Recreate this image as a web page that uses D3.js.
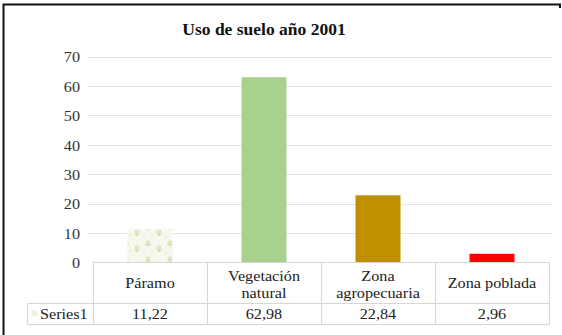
<!DOCTYPE html>
<html>
<head>
<meta charset="utf-8">
<script src="https://cdn.jsdelivr.net/npm/d3@7"></script>
<style>
  html, body { margin: 0; padding: 0; background: #fff; }
  svg { display: block; }
  svg text { font-family: "Liberation Serif", "Times New Roman", "DejaVu Serif", serif; }
</style>
</head>
<body>
<svg id="chart" width="562" height="335"></svg>
<script>
// Land use, 2001 (percent of area)
const title = "Uso de suelo año 2001";
const categories = ["Páramo", "Vegetación natural", "Zona agropecuaria", "Zona poblada"];
const categoryLines = [["Páramo"], ["Vegetación", "natural"], ["Zona", "agropecuaria"], ["Zona poblada"]];
const values = [11.22, 62.98, 22.84, 2.96];
const valueLabels = ["11,22", "62,98", "22,84", "2,96"];
const seriesName = "Series1";
const yTicks = [0, 10, 20, 30, 40, 50, 60, 70];
const barColors = ["url(#paramo)", "#a9d18e", "#bf9000", "#ff0000"];

const svg = d3.select("#chart");
const sx = 1.08; // slightly wide lettering

// helper: text placed at (x, y), widened horizontally
function label(g, x, y, t, anchor) {
  return g.append("text")
    .attr("transform", `translate(${x},${y}) scale(${sx},1)`)
    .attr("text-anchor", anchor || "middle")
    .text(t);
}

// leafy texture for the páramo bar
const defs = svg.append("defs");
const pat = defs.append("pattern")
  .attr("id", "paramo").attr("patternUnits", "userSpaceOnUse")
  .attr("width", 22).attr("height", 16);
pat.append("rect").attr("width", 22).attr("height", 16).attr("fill", "#f6f8ee");
pat.append("path")
  .attr("d", "M5 12 L3 6 M5 12 L5 5 M5 12 L7 6 M5 12 L2 9 M5 12 L8 9 M16 6 L14 1 M16 6 L16 0 M16 6 L18 1 M16 6 L13 4 M16 6 L19 4")
  .attr("stroke", "#cfdfb0").attr("stroke-width", 1).attr("fill", "none");
pat.append("circle").attr("cx", 12).attr("cy", 13).attr("r", 0.8).attr("fill", "#d9e6bf");
pat.append("circle").attr("cx", 20).attr("cy", 11).attr("r", 0.8).attr("fill", "#d9e6bf");

// outer frame (top and left edges)
svg.append("path")
  .attr("d", "M3.5 339 L3.5 4.5 L560 4.5 L560 8")
  .attr("fill", "none").attr("stroke", "#111").attr("stroke-width", 2);

svg.append("text")
  .attr("x", 264).attr("y", 35)
  .attr("text-anchor", "middle")
  .attr("font-weight", "bold")
  .attr("font-size", 17.5).attr("fill", "#111")
  .text(title);

const x = d3.scaleBand().domain(categories).range([93, 549]).paddingInner(0).paddingOuter(0);
const y = d3.scaleLinear().domain([0, 70]).range([262.5, 56.5]);

// gridlines
svg.append("g")
  .selectAll("line").data(yTicks.filter(d => d > 0)).join("line")
  .attr("x1", 87).attr("x2", 552)
  .attr("y1", d => Math.round(y(d)) + 0.5).attr("y2", d => Math.round(y(d)) + 0.5)
  .attr("stroke", "#e3e3e3").attr("stroke-width", 1);

// y axis labels
const yAxis = d3.axisLeft(y).tickValues(yTicks).tickSize(0).tickPadding(0);
const gy = svg.append("g").attr("transform", "translate(80,0)").call(yAxis);
gy.select(".domain").remove();
gy.selectAll("text")
  .attr("font-size", 15).attr("fill", "#333")
  .attr("dy", "0.35em")
  .attr("transform", `scale(${sx},1)`)
  .attr("x", 0)
  .attr("text-anchor", "end");

// bars
const barW = 45;
svg.append("g")
  .selectAll("rect").data(values).join("rect")
  .attr("x", (d, i) => x(categories[i]) + x.bandwidth() / 2 - barW / 2)
  .attr("width", barW)
  .attr("y", d => y(d))
  .attr("height", d => y(0) - y(d))
  .attr("fill", (d, i) => barColors[i]);

// data table below the plot
const tbl = svg.append("g").attr("stroke", "#d6d6d6").attr("stroke-width", 1).attr("fill", "none");
const yTop = 262.5, yMid = 303.5, yBot = 324.5, xLeft = 27.5;
tbl.append("line").attr("x1", 93).attr("x2", 549.5).attr("y1", yTop).attr("y2", yTop);
tbl.append("line").attr("x1", xLeft).attr("x2", 549.5).attr("y1", yMid).attr("y2", yMid);
tbl.append("line").attr("x1", xLeft).attr("x2", 549.5).attr("y1", yBot).attr("y2", yBot);
tbl.append("line").attr("x1", xLeft).attr("x2", xLeft).attr("y1", yMid).attr("y2", yBot);
const cols = categories.map(c => x(c)).concat([x.range()[1]]);
tbl.selectAll(".v").data(cols).join("line")
  .attr("x1", d => Math.round(d) + 0.5).attr("x2", d => Math.round(d) + 0.5)
  .attr("y1", yTop).attr("y2", yBot);

// header row (category names)
const hdr = svg.append("g").attr("font-size", 15).attr("fill", "#222");
categoryLines.forEach((lines, i) => {
  const cx = x(categories[i]) + x.bandwidth() / 2;
  const lh = 17;
  const y0 = lines.length > 1 ? 281 : 288;
  lines.forEach((t, j) => label(hdr, cx, y0 + j * lh, t));
});

// value row
const row = svg.append("g").attr("font-size", 15).attr("fill", "#222");
valueLabels.forEach((t, i) => label(row, x(categories[i]) + x.bandwidth() / 2, 319, t));

// legend key + series name
svg.append("rect").attr("x", 32).attr("y", 310).attr("width", 5).attr("height", 6)
  .attr("fill", "#eef3df");
const leg = svg.append("g").attr("font-size", 15).attr("fill", "#222");
label(leg, 40, 319, seriesName, "start");
</script>
</body>
</html>
